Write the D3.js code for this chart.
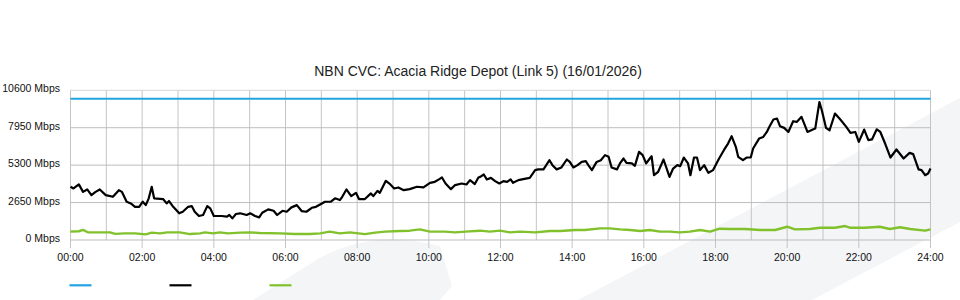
<!DOCTYPE html>
<html>
<head>
<meta charset="utf-8">
<script src="https://cdn.jsdelivr.net/npm/d3@7"></script>
<style>
  html, body { margin: 0; padding: 0; background: #fff; }
  svg { display: block; font-family: "Liberation Sans", Arial, sans-serif; }
</style>
</head>
<body>
<svg id="chart" width="960" height="300"></svg>
<script>
// ---- data (minutes after midnight, Mbps) ----
const chartTitle = 'NBN CVC: Acacia Ridge Depot (Link 5) (16/01/2026)';
const yTicks = [0, 2650, 5300, 7950, 10600];
const xTickHours = [0, 2, 4, 6, 8, 10, 12, 14, 16, 18, 20, 22, 24];

const capacityMbps = 10000;

const trafficTimes = [0,5,14,21,28,35,42,49,59,71,81,86,94,101,108,115,121,126,131,136,
  140,155,161,165,172,182,188,197,203,208,215,222,229,234,240,253,262,266,271,277,284,
  295,301,309,316,321,331,340,346,355,362,370,379,387,395,404,411,421,426,436,443,
  451,455,462,470,478,483,493,503,507,514,518,528,534,542,549,558,568,580,591,602,
  610,617,622,628,637,644,655,663,669,677,683,
  686,692,697,704,711,718,725,731,737,741,750,758,769,778,783,792,802,807,814,822,
  831,836,842,849,856,863,867,873,881,888,895,901,906,915,920,926,931,940,945,952,
  958,964,970,973,977,984,993,1003,1009,1016,1021,1027,1034,1038,1044,1049,1054,1061,1068,1076,1086,
  1094,1101,1107,1114,1118,1126,1132,1139,1143,1153,1160,1166,1170,1177,1183,1188,1195,1202,1210,1216,
  1224,1234,1243,1247,1254,1258,1265,1271,1280,1289,1299,1306,1314,1320,1329,1336,1342,1350,1356,1364,
  1373,1383,1395,1405,1411,1420,1425,1431,1436,1440];
const trafficMbps = [3770,3650,3940,3410,3580,3180,3410,3580,3180,3060,3530,3410,2710,2590,2350,2350,2710,2470,2950,3770,
  2950,2900,2590,2760,2350,1890,2000,2350,2400,2000,1700,1770,2400,2240,1700,1700,1650,1770,1530,1840,1890,
  1770,1890,1700,1600,1930,2170,2070,1770,2070,2000,2310,2470,2050,2000,2280,2350,2590,2710,2710,2950,
  2830,3060,3580,3110,3340,2900,2900,3300,3110,3480,3340,4190,4000,3650,3720,3530,3600,3770,3720,4050,
  4120,4290,4430,4000,3600,3890,4000,3930,4240,3960,4430,
  4470,4640,4290,4400,4170,4000,4170,4120,4290,4050,4240,4310,4400,4950,5000,5000,5650,5300,5000,5140,
  5700,5530,5140,5300,5530,5580,5300,4950,5530,5650,6010,5890,5140,5000,5420,5770,5460,5420,5250,6240,
  6010,5420,5770,5930,4590,4830,5700,4470,5060,5300,5230,5840,5420,4590,5840,5840,4950,5300,4760,4950,5770,
  6360,6830,7350,6600,5890,5650,5840,5840,6480,7180,7300,7650,8000,8530,8600,8060,7940,7650,8410,8360,
  8720,7650,7820,7890,9770,9190,7940,7770,8950,8530,8010,7580,7650,6950,7820,7070,7120,7840,7650,6830,
  5840,6410,5770,6170,6080,5000,4950,4590,4710,5060];

const lowTimes = [0,14,21,29,49,66,75,91,108,126,136,150,162,183,200,217,225,239,250,264,
  284,301,317,351,376,401,418,434,451,468,493,510,527,552,568,585,602,627,644,661,
  686,702,719,736,753,778,803,820,845,861,887,903,920,937,954,970,987,1004,1020,1037,
  1054,1071,1087,1104,1129,1155,1180,1200,1213,1238,1255,1280,1297,1305,1330,1355,1372,1389,1406,1431,1440];
const lowMbps = [600,620,720,550,540,540,430,470,470,400,520,470,540,540,420,470,540,470,540,470,
  520,540,500,470,420,420,470,590,470,540,420,520,590,640,660,750,590,590,540,590,
  660,590,660,540,590,540,640,640,710,710,820,820,750,710,640,710,590,590,540,590,
  710,590,800,780,780,710,710,940,750,780,870,870,990,870,870,940,780,900,780,660,750];

const colors = { capacity: '#22a4e0', traffic: '#000000', low: '#80c12c' };

// ---- layout ----
const svg = d3.select('#chart');
const plotLeft = 70.5, plotRight = 930.5, plotTop = 90.3, plotBottom = 240;

const x = d3.scaleLinear().domain([0, 1440]).range([plotLeft, plotRight]);
const y = d3.scaleLinear().domain([0, 10600]).range([plotBottom, plotTop]);

// faint watermark shapes in the background
svg.append('path')
  .attr('d', 'M253,300 L318,259 Q372,228 440,246 L452,286 L440,300 Z')
  .attr('fill', '#f4f5f7');
svg.append('path')
  .attr('d', 'M578,300 L960,98 L960,222 L812,300 Z')
  .attr('fill', '#f4f5f7');

// title
svg.append('text')
  .attr('x', 478).attr('y', 75.5)
  .attr('text-anchor', 'middle')
  .attr('font-size', 14)
  .attr('fill', '#222')
  .text(chartTitle);

// grid
const grid = svg.append('g');
d3.range(0, 25).forEach(h => {
  grid.append('line')
    .attr('x1', x(h * 60)).attr('x2', x(h * 60))
    .attr('y1', plotTop).attr('y2', h % 2 === 0 ? plotBottom + 8 : plotBottom)
    .attr('stroke', '#c4c4c4').attr('stroke-width', 1);
});
yTicks.forEach(v => {
  grid.append('line')
    .attr('x1', plotLeft).attr('x2', plotRight)
    .attr('y1', y(v)).attr('y2', y(v))
    .attr('stroke', v === 10600 ? '#d8d8d8' : '#bdbdbd').attr('stroke-width', 1);
});

// axis labels
svg.append('g').selectAll('text')
  .data(yTicks).enter().append('text')
    .attr('x', 60).attr('y', d => y(d) + 2)
    .attr('text-anchor', 'end')
    .attr('font-size', 10.5)
    .attr('fill', '#111')
    .text(d => d + ' Mbps');

svg.append('g').selectAll('text')
  .data(xTickHours).enter().append('text')
    .attr('x', d => x(d * 60)).attr('y', 260.5)
    .attr('text-anchor', 'middle')
    .attr('font-size', 10.5)
    .attr('fill', '#111')
    .text(d => String(d).padStart(2, '0') + ':00');

// series
const line = d3.line().x(d => x(d[0])).y(d => y(d[1]));

svg.append('path')
  .datum([[0, capacityMbps], [1440, capacityMbps]])
  .attr('d', line)
  .attr('fill', 'none').attr('stroke', colors.capacity).attr('stroke-width', 2.2);

svg.append('path')
  .datum(d3.zip(lowTimes, lowMbps))
  .attr('d', line)
  .attr('fill', 'none').attr('stroke', colors.low).attr('stroke-width', 2.4)
  .attr('stroke-linejoin', 'round');

svg.append('path')
  .datum(d3.zip(trafficTimes, trafficMbps))
  .attr('d', line)
  .attr('fill', 'none').attr('stroke', colors.traffic).attr('stroke-width', 2.2)
  .attr('stroke-linejoin', 'round');

// legend (swatches only)
const legend = [colors.capacity, colors.traffic, colors.low];
svg.append('g').selectAll('line')
  .data(legend).enter().append('line')
    .attr('x1', (d, i) => 69.5 + i * 100).attr('x2', (d, i) => 91.5 + i * 100)
    .attr('y1', 285.3).attr('y2', 285.3)
    .attr('stroke', d => d).attr('stroke-width', 2.2);
</script>
</body>
</html>
